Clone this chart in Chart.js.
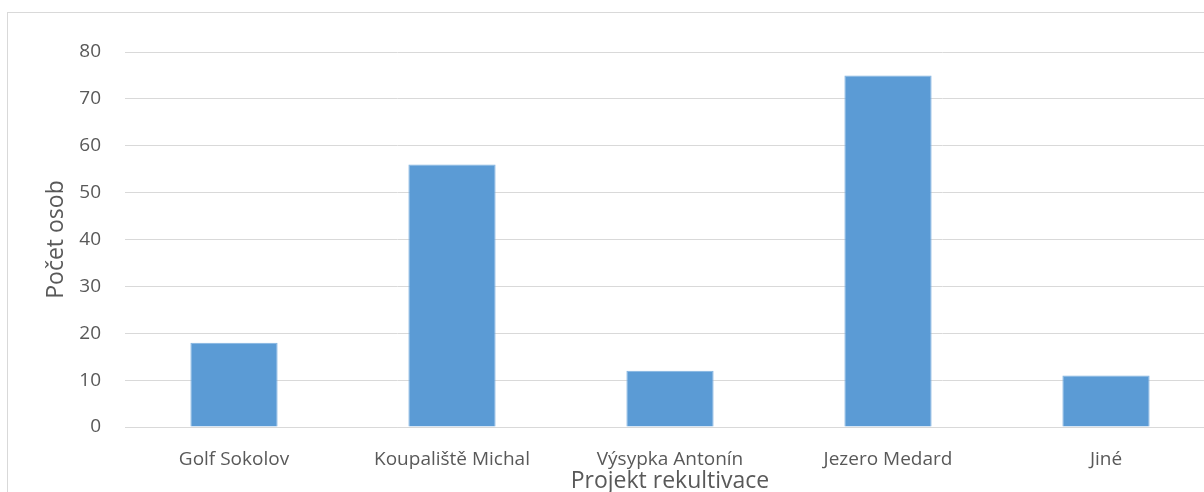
<!DOCTYPE html>
<html>
<head>
<meta charset="utf-8">
<script src="https://cdn.jsdelivr.net/npm/chart.js@4"></script>
<style>
  html, body { margin: 0; padding: 0; background: #fff; overflow: hidden; width: 1204px; height: 492px; }
  #box { position: absolute; left: 7px; top: 12px; width: 1210px; height: 500px; border: 1px solid #d9d9d9; }
  #box canvas { display: block; }
</style>
</head>
<body>
<div id="box"><canvas id="projektChart" width="1210" height="500"></canvas></div>
<script>
// Projekty rekultivace a počet osob
const projekty = ['Golf Sokolov', 'Koupaliště Michal', 'Výsypka Antonín', 'Jezero Medard', 'Jiné'];
const pocetOsob = [18, 56, 12, 75, 11];
const osaY = [0, 10, 20, 30, 40, 50, 60, 70, 80];

const textColor = '#595959';
const gridColor = '#d9d9d9';
const fontFamily = '"Open Sans", sans-serif';

const ctx = document.getElementById('projektChart').getContext('2d');

new Chart(ctx, {
    type: 'bar',
    data: {
        labels: projekty,
        datasets: [{
            label: 'Počet osob',
            data: pocetOsob,
            backgroundColor: '#5b9bd5',
            borderColor: '#7fb2e0',
            borderWidth: 1,
            categoryPercentage: 1,
            barPercentage: 0.4
        }]
    },
    options: {
        responsive: false,
        animation: false,
        layout: { padding: { top: 39, right: 3, left: 0, bottom: 0 } },
        scales: {
            x: {
                grid: { display: false, drawTicks: false },
                border: { color: gridColor, width: 1 },
                ticks: { color: textColor, font: { family: fontFamily, size: 19 }, padding: 21, maxRotation: 0 },
                title: {
                    display: true,
                    text: 'Projekt rekultivace',
                    color: textColor,
                    font: { family: fontFamily, size: 23 },
                    padding: { top: 0, bottom: 18 }
                },
                afterFit: (scale) => { scale.height = 86; }
            },
            y: {
                min: 0,
                max: 80,
                afterBuildTicks: (scale) => { scale.ticks = osaY.map(v => ({ value: v })); },
                grid: { color: gridColor, lineWidth: 1, drawTicks: false },
                border: { display: false },
                ticks: { color: textColor, font: { family: fontFamily, size: 19 }, padding: 24 },
                title: {
                    display: true,
                    text: 'Počet osob',
                    color: textColor,
                    font: { family: fontFamily, size: 23 },
                    padding: { top: 35, bottom: 0 }
                },
                afterFit: (scale) => { scale.width = 117; }
            }
        },
        plugins: {
            legend: { display: false },
            tooltip: { enabled: false }
        }
    }
});
</script>
</body>
</html>
